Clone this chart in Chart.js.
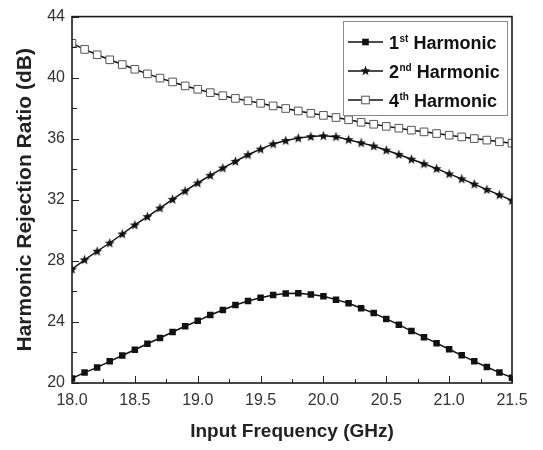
<!DOCTYPE html>
<html>
<head>
<meta charset="utf-8">
<script src="https://cdn.jsdelivr.net/npm/chart.js@4"></script>
<style>
html,body{margin:0;padding:0;background:#fff;}
#wrap{width:543px;height:450px;}
</style>
</head>
<body>
<div id="wrap"><canvas id="c" width="543" height="450"></canvas></div>
<script>
const freq = [18.0,18.1,18.2,18.3,18.4,18.5,18.6,18.7,18.8,18.9,19.0,19.1,19.2,19.3,19.4,19.5,19.6,19.7,19.8,19.9,20.0,20.1,20.2,20.3,20.4,20.5,20.6,20.7,20.8,20.9,21.0,21.1,21.2,21.3,21.4,21.5];
const h1 = [20.3,20.68,21.02,21.42,21.8,22.18,22.57,22.95,23.34,23.72,24.07,24.45,24.78,25.11,25.37,25.58,25.77,25.86,25.88,25.8,25.68,25.46,25.22,24.9,24.58,24.2,23.82,23.4,23.0,22.61,22.21,21.81,21.42,21.05,20.68,20.35];
const h2 = [27.45,28.07,28.63,29.17,29.76,30.35,30.9,31.46,32.03,32.58,33.1,33.6,34.08,34.52,34.95,35.32,35.66,35.88,36.04,36.14,36.19,36.13,35.94,35.73,35.52,35.25,34.97,34.66,34.36,34.04,33.7,33.37,33.03,32.67,32.32,31.95];
const h4 = [42.25,41.85,41.5,41.17,40.86,40.55,40.25,39.97,39.72,39.46,39.24,39.02,38.82,38.64,38.48,38.32,38.15,37.98,37.82,37.67,37.53,37.39,37.24,37.08,36.95,36.81,36.69,36.56,36.45,36.34,36.23,36.12,36.01,35.91,35.8,35.71];
const seriesNames = [["1","st"," Harmonic"],["2","nd"," Harmonic"],["4","th"," Harmonic"]];
const xTickLabels = ["18.0","18.5","19.0","19.5","20.0","20.5","21.0","21.5"];
const yTickLabels = ["20","24","28","32","36","40","44"];

function starCanvas(){
  const c = document.createElement('canvas');
  c.width = 11; c.height = 11;
  const g = c.getContext('2d');
  const cx = 5.5, cy = 5.8, R = 5.2, r = 2.2;
  g.beginPath();
  for (let i = 0; i < 10; i++) {
    const a = -Math.PI/2 + i*Math.PI/5;
    const rad = i % 2 === 0 ? R : r;
    const px = cx + rad*Math.cos(a), py = cy + rad*Math.sin(a);
    if (i === 0) g.moveTo(px, py); else g.lineTo(px, py);
  }
  g.closePath();
  g.fillStyle = '#111';
  g.fill();
  return c;
}
const star = starCanvas();

function pts(ys){ return freq.map((f,i)=>({x:f,y:ys[i]})); }

const frameAndTicks = {
  id:'frameAndTicks',
  afterDatasetsDraw(chart){
    const {ctx, chartArea:a, scales:{x, y}} = chart;
    ctx.save();
    ctx.strokeStyle = '#222';
    ctx.lineWidth = 1;
    // minor/major ticks inward
    ctx.beginPath();
    for (let v = 18.0; v <= 21.5001; v += 0.25) {
      const px = Math.round(x.getPixelForValue(v)) + 0.5;
      const major = Math.abs(v*2 - Math.round(v*2)) < 1e-6;
      const len = major ? 7 : 4;
      ctx.moveTo(px, a.bottom); ctx.lineTo(px, a.bottom - len);
    }
    for (let v = 20; v <= 44.001; v += 2) {
      const py = Math.round(y.getPixelForValue(v)) + 0.5;
      const major = v % 4 === 0;
      const len = major ? 7 : 5;
      ctx.moveTo(a.left, py); ctx.lineTo(a.left + len, py);
    }
    ctx.stroke();
    ctx.lineWidth = 1.6;
    ctx.strokeStyle = '#1a1a1a';
    ctx.strokeRect(a.left, a.top, a.right - a.left, a.bottom - a.top);
    ctx.restore();
  },
  afterDraw(chart){
    const ctx = chart.ctx;
    ctx.save();
    const bx = 343, by = 21, bw = 164, bh = 94;
    ctx.fillStyle = '#fff';
    ctx.fillRect(bx, by, bw, bh);
    ctx.strokeStyle = '#8a8a8a';
    ctx.lineWidth = 1;
    ctx.strokeRect(bx + 0.5, by + 0.5, bw, bh);
    const rows = [42, 71, 100];
    chart.data.datasets.forEach((ds, i) => {
      const yy = rows[i];
      ctx.strokeStyle = '#111';
      ctx.lineWidth = 1.5;
      ctx.beginPath(); ctx.moveTo(348, yy); ctx.lineTo(383, yy); ctx.stroke();
      const mx = 365.5;
      if (i === 0) {
        ctx.fillStyle = '#111'; ctx.fillRect(mx - 3.3, yy - 3.3, 6.6, 6.6);
      } else if (i === 1) {
        ctx.drawImage(star, mx - 5.5, yy - 5.8);
      } else {
        ctx.fillStyle = '#fff'; ctx.fillRect(mx - 3.8, yy - 3.8, 7.6, 7.6);
        ctx.strokeStyle = '#555'; ctx.lineWidth = 1;
        ctx.strokeRect(mx - 3.8, yy - 3.8, 7.6, 7.6);
      }
      const parts = seriesNames[i];
      ctx.fillStyle = '#111';
      ctx.textBaseline = 'alphabetic';
      let tx = 389;
      const base = yy + 6.5;
      ctx.font = 'bold 18px "Liberation Sans", Arial, sans-serif';
      ctx.fillText(parts[0], tx, base); tx += ctx.measureText(parts[0]).width + 0.5;
      ctx.font = 'bold 10px "Liberation Sans", Arial, sans-serif';
      ctx.fillText(parts[1], tx, base - 7); tx += ctx.measureText(parts[1]).width;
      ctx.font = 'bold 18px "Liberation Sans", Arial, sans-serif';
      ctx.fillText(parts[2], tx, base);
    });
    ctx.restore();
  }
};

new Chart(document.getElementById('c'), {
  type:'line',
  data:{
    datasets:[
      {label:'1st Harmonic', data:pts(h1), borderColor:'#111', borderWidth:1.5, pointStyle:'rect', pointRadius:4.6, pointBackgroundColor:'#111', pointBorderColor:'#111', pointBorderWidth:0},
      {label:'2nd Harmonic', data:pts(h2), borderColor:'#111', borderWidth:1.5, pointStyle:star, pointRadius:5},
      {label:'4th Harmonic', data:pts(h4), borderColor:'#111', borderWidth:1.5, pointStyle:'rect', pointRadius:5.4, pointBackgroundColor:'#fff', pointBorderColor:'#555', pointBorderWidth:1}
    ]
  },
  options:{
    responsive:false,
    animation:false,
    events:[],
    layout:{padding:{left:0, right:31, top:15, bottom:0}},
    plugins:{legend:{display:false}, tooltip:{enabled:false}},
    elements:{line:{tension:0}},
    scales:{
      x:{
        type:'linear', min:18, max:21.5,
        afterFit(s){ s.height = 67; },
        afterBuildTicks(s){ s.ticks = xTickLabels.map(t=>({value:parseFloat(t)})); },
        ticks:{padding:8, color:'#333', font:{family:'"Liberation Sans", Arial, sans-serif', size:16}, callback:(v)=>Number(v).toFixed(1), maxRotation:0, autoSkip:false},
        grid:{display:false, drawTicks:false},
        border:{display:false},
        title:{display:true, text:'Input Frequency (GHz)', color:'#222', font:{family:'"Liberation Sans", Arial, sans-serif', size:19, weight:'bold'}, padding:{top:0,bottom:7}}
      },
      y:{
        type:'linear', min:20, max:44,
        afterFit(s){ s.width = 72; },
        afterBuildTicks(s){ s.ticks = yTickLabels.map(t=>({value:parseFloat(t)})); },
        ticks:{padding:7, color:'#333', font:{family:'"Liberation Sans", Arial, sans-serif', size:16}, callback:(v)=>String(v), autoSkip:false},
        grid:{display:false, drawTicks:false},
        border:{display:false},
        title:{display:true, text:'Harmonic Rejection Ratio (dB)', color:'#222', font:{family:'"Liberation Sans", Arial, sans-serif', size:21, weight:'bold'}, padding:{top:13,bottom:0}}
      }
    }
  },
  plugins:[frameAndTicks]
});
</script>
</body>
</html>
